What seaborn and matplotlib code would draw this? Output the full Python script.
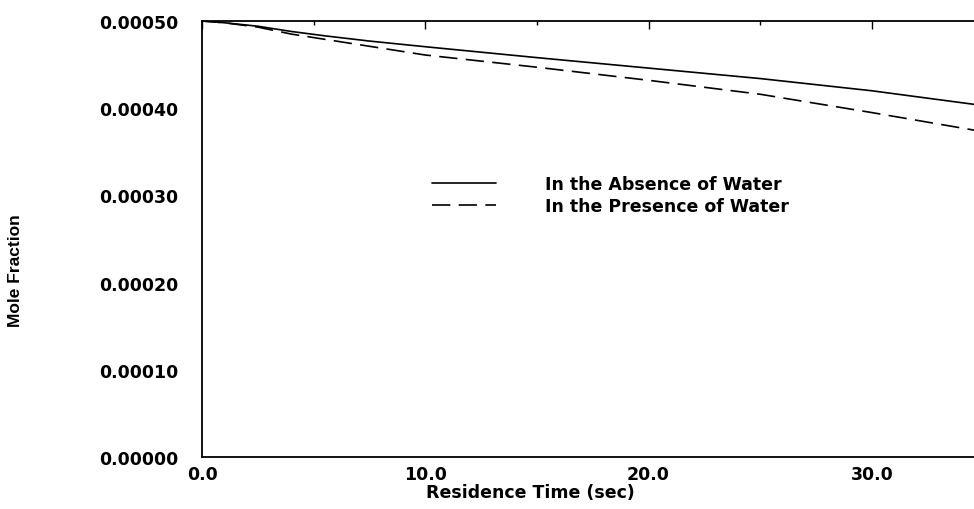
import pandas as pd
import matplotlib
matplotlib.use("Agg")
import matplotlib.pyplot as plt
import seaborn as sns
from matplotlib.ticker import MultipleLocator, FixedLocator, FormatStrFormatter

# values
time = [0.0, 1.0, 2.5, 4.0, 5.5, 7.5, 10.0, 15.0, 20.0, 25.0, 30.0, 35.0, 36.0]
no_water = [0.000500, 0.000498, 0.000494, 0.000488, 0.000483, 0.000477,
            0.0004705, 0.000458, 0.000446, 0.000434, 0.000420, 0.000403, 0.000400]
with_water = [0.000500, 0.000498, 0.000493, 0.000485, 0.000479, 0.000471,
              0.000461, 0.000447, 0.000432, 0.000416, 0.000395, 0.000373, 0.000369]
labels = ["In the Absence of Water", "In the Presence of Water"]
x_ticks = [0, 10, 20, 30]

df = pd.DataFrame({
    "time": time * 2,
    "frac": no_water + with_water,
    "case": [labels[0]] * len(time) + [labels[1]] * len(time),
})

sns.set_style("white")
plt.rcParams["font.family"] = ["DejaVu Sans"]
plt.rcParams["font.weight"] = "bold"
plt.rcParams["text.color"] = "black"
plt.rcParams["axes.labelcolor"] = "black"

fig = plt.figure(figsize=(9.74, 5.10), dpi=100)
# axes run on past the right edge, like the cropped original
ax = fig.add_axes([202 / 974, 52 / 510, 893 / 974, 436 / 510])

sns.lineplot(data=df, x="time", y="frac", hue="case", style="case",
             palette=["black", "black"],
             dashes={labels[0]: "", labels[1]: (11, 5)},
             linewidth=1.2, ax=ax)

ax.set_xlim(0, 40)
ax.set_ylim(0, 0.0005)
ax.xaxis.set_major_locator(FixedLocator(x_ticks))
ax.xaxis.set_minor_locator(MultipleLocator(5))
ax.yaxis.set_major_locator(MultipleLocator(0.0001))
ax.yaxis.set_minor_locator(MultipleLocator(0.00005))
ax.xaxis.set_major_formatter(FormatStrFormatter("%.1f"))
ax.yaxis.set_major_formatter(FormatStrFormatter("%.5f"))
ax.tick_params(which="both", direction="in", top=True, right=True,
               colors="black", labelsize=12.5)
ax.tick_params(which="major", length=6, width=1)
ax.tick_params(which="minor", length=3, width=1)
ax.tick_params(axis="x", pad=6)
ax.tick_params(axis="y", pad=17)
for s in ax.spines.values():
    s.set_color("black")
    s.set_linewidth(1.3)

ax.set_xlabel("Residence Time (sec)", fontsize=12.5, fontweight="bold")
ax.xaxis.set_label_coords(0.368, -0.06)
ax.set_ylabel("Mole Fraction", fontsize=12.5, fontweight="bold",
              family=["Liberation Sans Narrow", "Liberation Sans"])
ax.yaxis.set_label_coords(-0.2, 0.43)

ax.legend(loc="upper left", bbox_to_anchor=(432 / 974, 334 / 510),
          bbox_transform=fig.transFigure, frameon=False, fontsize=12.5,
          handlelength=3.7, handletextpad=2.8, borderpad=0,
          borderaxespad=0, labelspacing=0.25)

fig.savefig("out.png", dpi=100)
